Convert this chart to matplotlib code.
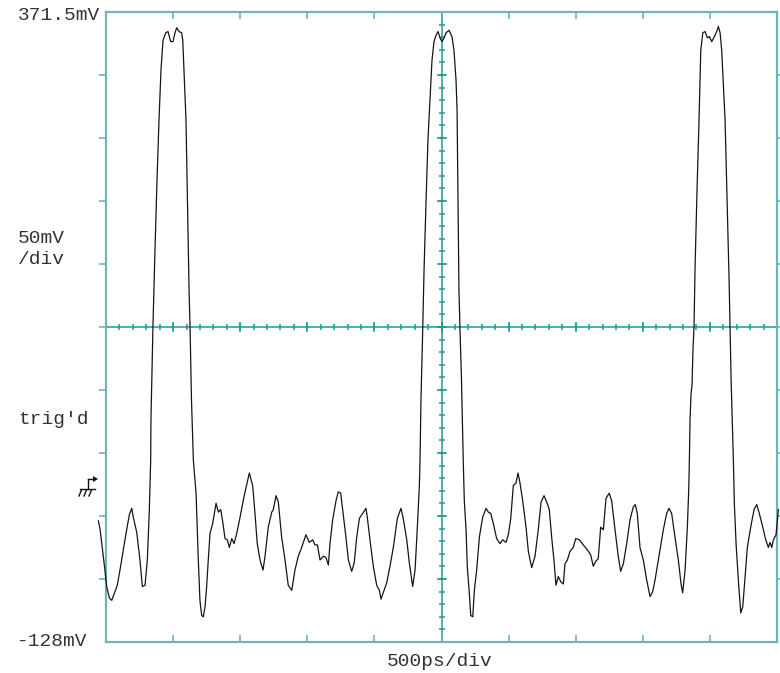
import numpy as np
import matplotlib
matplotlib.use("Agg")
import matplotlib.pyplot as plt
from matplotlib.lines import Line2D
from matplotlib.patches import Polygon

# waveform samples: time (ps from left edge of screen) and voltage (mV)
t_ps = [-57, -45, -20, -8, 5, 25, 43, 67, 84, 104, 129, 154, 174, 192, 203, 229, 253, 271, 291, 308,
        323, 333, 335, 343, 350, 365, 380, 395, 410, 425, 445, 462, 482, 499, 514, 527, 544, 564, 572,
        581, 596, 607, 619, 626, 637, 651, 671, 688, 700, 713, 725, 738, 750, 762, 775, 795, 820, 837,
        855, 870, 887, 904, 919, 937, 954, 974, 999, 1028, 1068, 1093, 1110, 1127, 1148, 1170, 1185,
        1209, 1235, 1247, 1267, 1284, 1309, 1334, 1358, 1384, 1408, 1433, 1458, 1490, 1515, 1540, 1557,
        1575, 1595, 1619, 1639, 1657, 1669, 1689, 1714, 1731, 1749, 1768, 1788, 1806, 1831, 1850, 1868,
        1888, 1913, 1937, 1947, 1967, 1992, 2017, 2037, 2049, 2072, 2092, 2116, 2141, 2171, 2198, 2215,
        2241, 2260, 2285, 2303, 2320, 2335, 2340, 2347, 2358, 2370, 2385, 2399, 2414, 2429, 2444, 2459,
        2474, 2489, 2504, 2519, 2534, 2556, 2578, 2593, 2608, 2616, 2623, 2630, 2638, 2649, 2657, 2662,
        2670, 2683, 2692, 2707, 2718, 2733, 2745, 2762, 2782, 2807, 2832, 2849, 2867, 2886, 2911, 2936,
        2956, 2981, 2998, 3016, 3035, 3055, 3070, 3085, 3105, 3130, 3147, 3172, 3197, 3221, 3242, 3264,
        3284, 3303, 3321, 3338, 3353, 3370, 3388, 3408, 3420, 3438, 3458, 3482, 3500, 3527, 3557, 3594,
        3612, 3631, 3649, 3668, 3686, 3706, 3726, 3750, 3768, 3793, 3817, 3835, 3855, 3880, 3905, 3929,
        3944, 3959, 3979, 4004, 4029, 4054, 4074, 4091, 4116, 4153, 4178, 4195, 4215, 4240, 4265, 4285,
        4297, 4315, 4332, 4342, 4347, 4352, 4359, 4367, 4374, 4382, 4389, 4404, 4419, 4432, 4447, 4464,
        4481, 4496, 4514, 4533, 4551, 4563, 4576, 4588, 4600, 4613, 4628, 4643, 4650, 4658, 4669, 4675,
        4682, 4695, 4712, 4730, 4745, 4762, 4779, 4804, 4829, 4849, 4868, 4894, 4916, 4936, 4948, 4961,
        4973, 4993, 5010]
v_mv = [-32, -38, -60, -71, -84, -93, -95, -88, -83, -71, -55, -39, -27, -22, -29, -41, -63, -84, -83, -63,
        -23, 16, 48, 88, 123, 183, 238, 286, 326, 349, 355, 356, 348, 348, 355, 359, 356, 355, 349,
        326, 286, 222, 151, 123, 64, 16, -10, -63, -95, -107, -108, -100, -84, -63, -42, -34, -18, -25,
        -23, -33, -46, -47, -53, -46, -50, -42, -29, -13, 6, -4, -26, -50, -63, -71, -60,
        -37, -25, -23, -12, -17, -45, -63, -83, -87, -71, -60, -53, -43, -49, -47, -51,
        -51, -63, -60, -61, -67, -50, -31, -16, -9, -10, -27, -45, -63, -72, -65, -45,
        -30, -26, -22, -29, -47, -68, -83, -87, -94, -87, -81, -68, -53, -30, -22, -30,
        -47, -65, -84, -71, -37, -4, 16, 64, 111, 167, 222, 270, 302, 333, 348, 353,
        356, 351, 348, 351, 355, 357, 352, 341, 318, 294, 222, 151, 119, 80, 40, 16,
        -16, -39, -68, -89, -107, -108, -87, -71, -45, -29, -22, -25, -26, -34, -46, -50,
        -47, -49, -43, -30, -4, -2, 6, -2, -16, -37, -56, -69, -60, -39, -17, -12,
        -17, -23, -45, -63, -83, -76, -80, -82, -66, -63, -56, -53, -46, -47, -51, -56,
        -59, -68, -64, -62, -37, -39, -14, -10, -16, -39, -60, -72, -66, -50, -31, -21,
        -19, -26, -53, -63, -79, -92, -88, -79, -63, -39, -26, -22, -26, -45, -63, -82,
        -89, -71, -37, -8, 16, 48, 68, 76, 104, 123, 167, 230, 286, 341, 355, 356,
        351, 352, 348, 352, 356, 360, 355, 341, 315, 286, 222, 159, 123, 80, 40, 16,
        -18, -50, -79, -105, -100, -76, -53, -37, -23, -19, -26, -37, -47, -53, -49, -53,
        -47, -43, -23]

# scope settings
t_span = 5000.0          # 500 ps/div x 10
v_top, v_bot = 371.5, -128.0
n_div = 10

grid_edge = '#6cb6b6'
grid_mid = '#1e9898'
ink = '#333333'
mono = 'Liberation Mono'

fig = plt.figure(figsize=(7.8, 6.73), dpi=100, facecolor='white')
ax = fig.add_axes([106 / 780, 31 / 673, 671 / 780, 630 / 673])
ax.set_xlim(0, t_span)
ax.set_ylim(v_bot, v_top)

for s in ax.spines.values():
    s.set_color(grid_edge)
    s.set_linewidth(1.6)

xdiv = np.linspace(0, t_span, n_div + 1)
ydiv = np.linspace(v_bot, v_top, n_div + 1)
ax.set_xticks(xdiv[1:-1])
ax.set_yticks(ydiv[1:-1])
ax.set_xticklabels([])
ax.set_yticklabels([])
ax.tick_params(axis='x', direction='in', length=5, width=1.2, color=grid_edge, top=True, bottom=True)
ax.tick_params(axis='y', direction='out', length=5, width=1.2, color=grid_edge, left=True, right=True)

# centre cross with fine ticks
xc = t_span / 2
yc = (v_top + v_bot) / 2
ax.axvline(xc, color=grid_mid, lw=1.1, zorder=1)
ax.axhline(yc, color=grid_mid, lw=1.1, zorder=1)
xminor = np.linspace(0, t_span, n_div * 5 + 1)[1:-1]
yminor = np.linspace(v_bot, v_top, n_div * 5 + 1)[1:-1]
ax.plot(xminor, np.full_like(xminor, yc), ls='none', marker='|', ms=4.3, mew=1.1, color=grid_mid, zorder=1)
ax.plot(np.full_like(yminor, xc), yminor, ls='none', marker='_', ms=4.3, mew=1.1, color=grid_mid, zorder=1)
ax.plot(xdiv[1:-1], np.full(n_div - 1, yc), ls='none', marker='|', ms=6.5, mew=1.1, color=grid_mid, zorder=1)
ax.plot(np.full(n_div - 1, xc), ydiv[1:-1], ls='none', marker='_', ms=6.5, mew=1.1, color=grid_mid, zorder=1)

# trace
ax.plot(t_ps, v_mv, color='#151515', lw=0.9, clip_on=False, zorder=3)

# labels
def ftxt(x, y, s, **kw):
    fig.text(x / 780, 1 - y / 673, s, family=mono, fontsize=14, color=ink, va='center', **kw)

ftxt(18, 16, '371.5mV')
ftxt(18, 238, '50mV')
ftxt(18, 260, '/div')
ftxt(18, 420, "trig'd")
ftxt(17, 641, '-128mV')
ftxt(440, 661, '500ps/div', ha='center')

# trigger / ground glyph
def fpx(pts):
    return [(px / 780, 1 - py / 673) for px, py in pts]

for seg in ([(88, 479), (94, 479)], [(88, 479), (88, 489)], [(80, 489), (95, 489)],
            [(81.5, 490), (79, 496)], [(86.5, 490), (84, 496)], [(91.5, 490), (89, 496)]):
    xy = fpx(seg)
    fig.add_artist(Line2D([p[0] for p in xy], [p[1] for p in xy], color='#111111', lw=1.0))
fig.add_artist(Polygon(fpx([(93, 476), (98, 479), (93, 482)]), closed=True, color='#111111', lw=0))

fig.savefig('out.png', dpi=100, facecolor='white')
